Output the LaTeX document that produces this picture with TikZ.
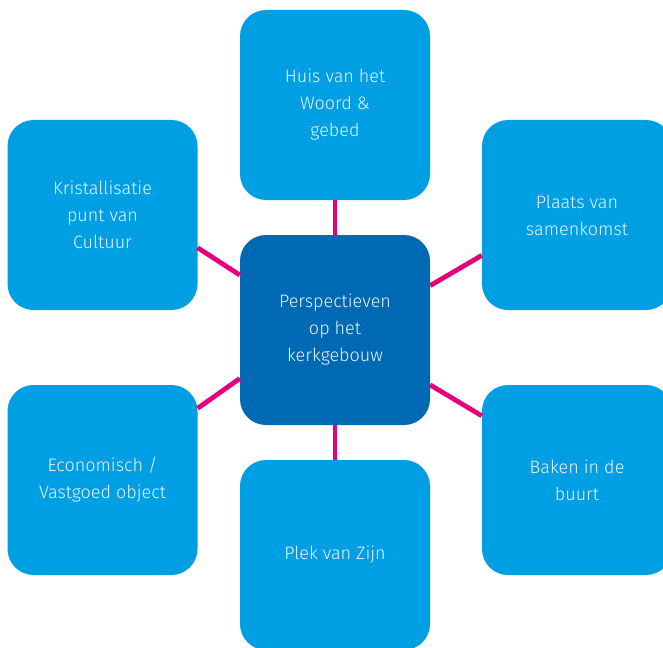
\documentclass[tikz,border=0pt]{standalone}
\usepackage{fontspec}
\setmainfont{Fira Sans}[UprightFont=* Light]
\usepackage{tikz}
\usetikzlibrary{positioning}
\definecolor{lichtblauw}{RGB}{0,159,227}
\definecolor{donkerblauw}{RGB}{0,105,180}
\definecolor{roze}{RGB}{229,0,125}
\definecolor{tekstkleur}{RGB}{232,244,251}

\begin{document}
\begin{tikzpicture}[x=1pt,y=-1pt,
	blok/.style={rectangle,rounded corners=26pt,fill=lichtblauw,
		minimum width=190pt,minimum height=190pt,inner sep=0pt,
		text=tekstkleur,align=center,font=\fontsize{18}{27}\selectfont},
	lijn/.style={draw=roze,line width=4.8pt}]
			\clip (0,0) rectangle (663,647);
			\node[blok,fill=donkerblauw] (kerk) at (335,330) {Perspectieven\\op het\\kerkgebouw};
			\node[blok] (woord) at (335,105) {Huis van het\\Woord \&\\gebed};
			\node[blok] (cultuur) at (102.5,215) {Kristallisatie\\punt van\\Cultuur};
			\node[blok] (samenkomst) at (577,215) {Plaats van\\samenkomst};
			\node[blok] (vastgoed) at (102.5,480) {Economisch /\\Vastgoed object};
			\node[blok] (baken) at (577,480) {Baken in de\\buurt};
			\node[blok] (zijn) at (335,555) {Plek van Zijn};

			\draw [lijn] (kerk.north) to (woord.south);
			\draw [lijn] (kerk.south) to (zijn.north);
			\draw [lijn] (kerk.150.8) to (cultuur.-19.2);
			\draw [lijn] (kerk.25.3) to (samenkomst.-157.2);
			\draw [lijn] (kerk.207.8) to (vastgoed.37.7);
			\draw [lijn] (kerk.-30.1) to (baken.146.9);
	\end{tikzpicture}
\end{document}
